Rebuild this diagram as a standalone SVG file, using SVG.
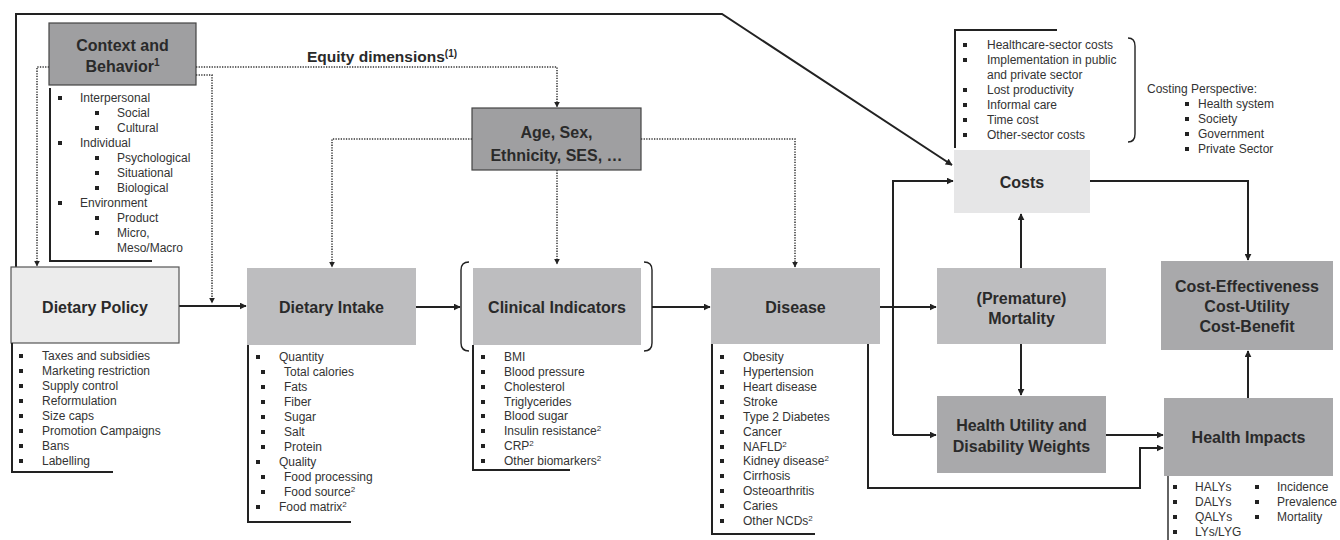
<svg xmlns="http://www.w3.org/2000/svg" width="1340" height="540" viewBox="0 0 1340 540">
<style>
.bg{fill:#fff}
.t{font-family:"Liberation Sans",Arial,sans-serif;fill:#2a2a2a}
.h{font-size:16px;font-weight:bold;text-anchor:middle}
.l{font-size:12px;fill:#333}
.ln{fill:none;stroke:#222;stroke-width:2}
.br{fill:none;stroke:#222;stroke-width:1.4}
.dot{fill:none;stroke:#333;stroke-width:1.5;stroke-dasharray:1.3 1.3}
.dk{fill:#9f9fa1;stroke:#444;stroke-width:1.2}
.dk2{fill:#a9a9ab}
.md{fill:#bdbdbf}
.lt{fill:#e6e6e7}
.lp{fill:#ececec;stroke:#555;stroke-width:1.2}
.b{fill:#222}
</style>
<defs>
<marker id="a" viewBox="0 0 10 10" refX="9" refY="5" markerWidth="7" markerHeight="7" markerUnits="userSpaceOnUse" orient="auto"><path d="M0,0 L10,5 L0,10 z" fill="#222"/></marker>
<marker id="ad" viewBox="0 0 10 10" refX="9" refY="5" markerWidth="6" markerHeight="6" markerUnits="userSpaceOnUse" orient="auto"><path d="M0,0 L10,5 L0,10 z" fill="#222"/></marker>
<rect id="sq" width="4" height="4" class="b"/>
</defs>
<rect class="bg" x="0" y="0" width="1340" height="540"/>

<g id="connectors">
<path class="ln" d="M16,267 V14 H722 L952,165" marker-end="url(#a)"/>
<path class="ln" d="M179,306 H246" marker-end="url(#a)"/>
<path class="ln" d="M416,307 H460" marker-end="url(#a)"/>
<path class="ln" d="M652,307 H710" marker-end="url(#a)"/>
<path class="ln" d="M880,307 H936" marker-end="url(#a)"/>
<path class="ln" d="M893,435 V181 H953" marker-end="url(#a)"/>
<path class="ln" d="M893,435 H936" marker-end="url(#a)"/>
<path class="ln" d="M868,344 V488 H1140 V448 H1163" marker-end="url(#a)"/>
<path class="ln" d="M1106,435 H1163" marker-end="url(#a)"/>
<path class="ln" d="M1021,268 V214" marker-end="url(#a)"/>
<path class="ln" d="M1021,344 V395" marker-end="url(#a)"/>
<path class="ln" d="M1090,181 H1248 V260" marker-end="url(#a)"/>
<path class="ln" d="M1248,398 V351" marker-end="url(#a)"/>
<path class="dot" d="M49,67 H37 V266" marker-end="url(#ad)"/>
<path class="dot" d="M196,67 H557 V107" marker-end="url(#ad)"/>
<path class="dot" d="M196,75 H212 V303" marker-end="url(#ad)"/>
<path class="dot" d="M472,139 H332 V267" marker-end="url(#ad)"/>
<path class="dot" d="M557,170 V264" marker-end="url(#ad)"/>
<path class="dot" d="M641,139 H795 V267" marker-end="url(#ad)"/>
</g>

<g id="equity-label">
<text class="t" x="307" y="62" style="font-size:15.5px;font-weight:bold">Equity dimensions<tspan font-size="10" dy="-5">(1)</tspan></text>
</g>

<g id="context">
<rect class="dk" x="49" y="23" width="147" height="62"/>
<text class="t h" x="122.5" y="51">Context and</text>
<text class="t h" x="122.5" y="72">Behavior<tspan font-size="10" dy="-6">1</tspan></text>
<path class="ln" d="M50,88 V261 H152"/>
<use href="#sq" x="58" y="96"/><text class="t l" x="80" y="102">Interpersonal</text>
<use href="#sq" x="95" y="111"/><text class="t l" x="117" y="117">Social</text>
<use href="#sq" x="95" y="126"/><text class="t l" x="117" y="132">Cultural</text>
<use href="#sq" x="58" y="141"/><text class="t l" x="80" y="147">Individual</text>
<use href="#sq" x="95" y="156"/><text class="t l" x="117" y="162">Psychological</text>
<use href="#sq" x="95" y="171"/><text class="t l" x="117" y="177">Situational</text>
<use href="#sq" x="95" y="186"/><text class="t l" x="117" y="192">Biological</text>
<use href="#sq" x="58" y="201"/><text class="t l" x="80" y="207">Environment</text>
<use href="#sq" x="95" y="216"/><text class="t l" x="117" y="222">Product</text>
<use href="#sq" x="95" y="231"/><text class="t l" x="117" y="237">Micro,</text>
<text class="t l" x="117" y="252">Meso/Macro</text>
</g>

<g id="age">
<rect class="dk" x="472" y="108" width="169" height="62"/>
<text class="t h" x="556.5" y="138">Age, Sex,</text>
<text class="t h" x="556.5" y="161">Ethnicity, SES, …</text>
</g>

<g id="dietary-policy">
<rect class="lp" x="11" y="267" width="168" height="76"/>
<text class="t h" x="95" y="313">Dietary Policy</text>
<path class="ln" d="M12,343 V472 H113"/>
<use href="#sq" x="19" y="354"/><text class="t l" x="42" y="360">Taxes and subsidies</text>
<use href="#sq" x="19" y="369"/><text class="t l" x="42" y="375">Marketing restriction</text>
<use href="#sq" x="19" y="384"/><text class="t l" x="42" y="390">Supply control</text>
<use href="#sq" x="19" y="399"/><text class="t l" x="42" y="405">Reformulation</text>
<use href="#sq" x="19" y="414"/><text class="t l" x="42" y="420">Size caps</text>
<use href="#sq" x="19" y="429"/><text class="t l" x="42" y="435">Promotion Campaigns</text>
<use href="#sq" x="19" y="444"/><text class="t l" x="42" y="450">Bans</text>
<use href="#sq" x="19" y="459"/><text class="t l" x="42" y="465">Labelling</text>
</g>

<g id="dietary-intake">
<rect class="md" x="247" y="268" width="169" height="77"/>
<text class="t h" x="331.5" y="313">Dietary Intake</text>
<path class="ln" d="M248,345 V522 H351"/>
<use href="#sq" x="256" y="355"/><text class="t l" x="279" y="361">Quantity</text>
<use href="#sq" x="261" y="370"/><text class="t l" x="284" y="376">Total calories</text>
<use href="#sq" x="261" y="385"/><text class="t l" x="284" y="391">Fats</text>
<use href="#sq" x="261" y="400"/><text class="t l" x="284" y="406">Fiber</text>
<use href="#sq" x="261" y="415"/><text class="t l" x="284" y="421">Sugar</text>
<use href="#sq" x="261" y="430"/><text class="t l" x="284" y="436">Salt</text>
<use href="#sq" x="261" y="445"/><text class="t l" x="284" y="451">Protein</text>
<use href="#sq" x="256" y="460"/><text class="t l" x="279" y="466">Quality</text>
<use href="#sq" x="261" y="475"/><text class="t l" x="284" y="481">Food processing</text>
<use href="#sq" x="261" y="490"/><text class="t l" x="284" y="496">Food source<tspan font-size="8" dy="-4">2</tspan></text>
<use href="#sq" x="256" y="505"/><text class="t l" x="279" y="511">Food matrix<tspan font-size="8" dy="-4">2</tspan></text>
</g>

<g id="clinical">
<path class="br" d="M469,262 Q461,262 461,270 V343 Q461,351 469,351"/>
<path class="br" d="M644,262 Q652,262 652,270 V343 Q652,351 644,351"/>
<rect class="md" x="473" y="268" width="168" height="77"/>
<text class="t h" x="557" y="313">Clinical Indicators</text>
<path class="ln" d="M473,345 V470 H570"/>
<use href="#sq" x="481" y="355"/><text class="t l" x="504" y="361">BMI</text>
<use href="#sq" x="481" y="370"/><text class="t l" x="504" y="376">Blood pressure</text>
<use href="#sq" x="481" y="385"/><text class="t l" x="504" y="391">Cholesterol</text>
<use href="#sq" x="481" y="400"/><text class="t l" x="504" y="406">Triglycerides</text>
<use href="#sq" x="481" y="414"/><text class="t l" x="504" y="420">Blood sugar</text>
<use href="#sq" x="481" y="429"/><text class="t l" x="504" y="435">Insulin resistance<tspan font-size="8" dy="-4">2</tspan></text>
<use href="#sq" x="481" y="444"/><text class="t l" x="504" y="450">CRP<tspan font-size="8" dy="-4">2</tspan></text>
<use href="#sq" x="481" y="459"/><text class="t l" x="504" y="465">Other biomarkers<tspan font-size="8" dy="-4">2</tspan></text>
</g>

<g id="disease">
<rect class="md" x="711" y="268" width="169" height="76"/>
<text class="t h" x="795.5" y="313">Disease</text>
<path class="ln" d="M712,344 V534 H815"/>
<use href="#sq" x="720" y="355"/><text class="t l" x="743" y="361">Obesity</text>
<use href="#sq" x="720" y="370"/><text class="t l" x="743" y="376">Hypertension</text>
<use href="#sq" x="720" y="385"/><text class="t l" x="743" y="391">Heart disease</text>
<use href="#sq" x="720" y="400"/><text class="t l" x="743" y="406">Stroke</text>
<use href="#sq" x="720" y="415"/><text class="t l" x="743" y="421">Type 2 Diabetes</text>
<use href="#sq" x="720" y="430"/><text class="t l" x="743" y="436">Cancer</text>
<use href="#sq" x="720" y="445"/><text class="t l" x="743" y="451">NAFLD<tspan font-size="8" dy="-4">2</tspan></text>
<use href="#sq" x="720" y="459"/><text class="t l" x="743" y="465">Kidney disease<tspan font-size="8" dy="-4">2</tspan></text>
<use href="#sq" x="720" y="474"/><text class="t l" x="743" y="480">Cirrhosis</text>
<use href="#sq" x="720" y="489"/><text class="t l" x="743" y="495">Osteoarthritis</text>
<use href="#sq" x="720" y="504"/><text class="t l" x="743" y="510">Caries</text>
<use href="#sq" x="720" y="519"/><text class="t l" x="743" y="525">Other NCDs<tspan font-size="8" dy="-4">2</tspan></text>
</g>

<g id="costs">
<rect class="lt" x="954" y="150" width="136" height="63"/>
<text class="t h" x="1022" y="188">Costs</text>
<path class="ln" d="M955,148 V30 H1057"/>
<path class="br" d="M1128,38 Q1135,38 1135,46 V134 Q1135,142 1128,142"/>
<use href="#sq" x="963" y="43"/><text class="t l" x="987" y="49">Healthcare-sector costs</text>
<use href="#sq" x="963" y="58"/><text class="t l" x="987" y="64">Implementation in public</text>
<text class="t l" x="987" y="79">and private sector</text>
<use href="#sq" x="963" y="88"/><text class="t l" x="987" y="94">Lost productivity</text>
<use href="#sq" x="963" y="103"/><text class="t l" x="987" y="109">Informal care</text>
<use href="#sq" x="963" y="118"/><text class="t l" x="987" y="124">Time cost</text>
<use href="#sq" x="963" y="133"/><text class="t l" x="987" y="139">Other-sector costs</text>
</g>

<g id="costing-perspective">
<text class="t l" x="1147" y="93">Costing Perspective:</text>
<use href="#sq" x="1185" y="102"/><text class="t l" x="1198" y="108">Health system</text>
<use href="#sq" x="1185" y="117"/><text class="t l" x="1198" y="123">Society</text>
<use href="#sq" x="1185" y="132"/><text class="t l" x="1198" y="138">Government</text>
<use href="#sq" x="1185" y="147"/><text class="t l" x="1198" y="153">Private Sector</text>
</g>

<g id="mortality">
<rect class="md" x="937" y="268" width="169" height="76"/>
<text class="t h" x="1021.5" y="304">(Premature)</text>
<text class="t h" x="1021.5" y="324">Mortality</text>
</g>

<g id="health-utility">
<rect class="dk2" x="937" y="396" width="169" height="77"/>
<text class="t h" x="1021.5" y="431">Health Utility and</text>
<text class="t h" x="1021.5" y="452">Disability Weights</text>
</g>

<g id="cost-effectiveness">
<rect class="dk2" x="1161" y="261" width="172" height="89"/>
<text class="t h" x="1247" y="292">Cost-Effectiveness</text>
<text class="t h" x="1247" y="312">Cost-Utility</text>
<text class="t h" x="1247" y="332">Cost-Benefit</text>
</g>

<g id="health-impacts">
<rect class="dk2" x="1164" y="398" width="169" height="78"/>
<text class="t h" x="1248.5" y="443">Health Impacts</text>
<path class="br" d="M1168,476 V540"/>
<use href="#sq" x="1173" y="485"/><text class="t l" x="1195" y="491">HALYs</text>
<use href="#sq" x="1173" y="500"/><text class="t l" x="1195" y="506">DALYs</text>
<use href="#sq" x="1173" y="515"/><text class="t l" x="1195" y="521">QALYs</text>
<use href="#sq" x="1173" y="530"/><text class="t l" x="1195" y="536">LYs/LYG</text>
<use href="#sq" x="1255" y="485"/><text class="t l" x="1277" y="491">Incidence</text>
<use href="#sq" x="1255" y="500"/><text class="t l" x="1277" y="506">Prevalence</text>
<use href="#sq" x="1255" y="515"/><text class="t l" x="1277" y="521">Mortality</text>
</g>
</svg>
